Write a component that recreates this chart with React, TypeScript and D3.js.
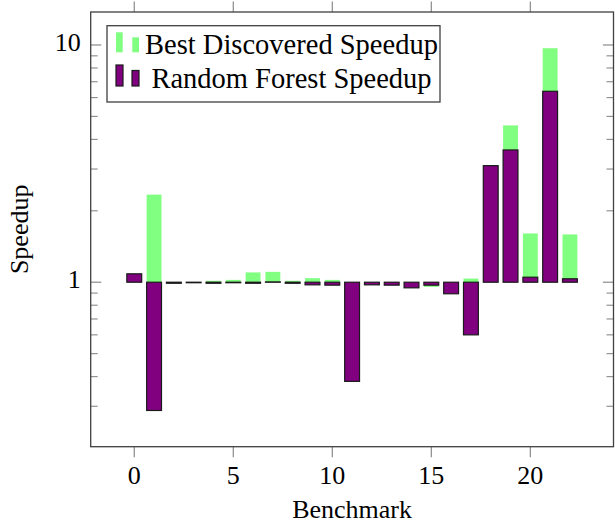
import React from "react";
import * as d3 from "d3";

// Per-benchmark speedups (log scale, bars grow from 1)
const benchmarks = d3.range(0, 23);
const bestDiscovered = [
  1.085, 2.34, 1.0, 1.0, 1.014, 1.023, 1.1, 1.106, 1.014, 1.04, 1.023, 1.0,
  1.0, 1.0, 1.0, 0.956, 1.0, 1.036, 3.12, 4.58, 1.605, 9.69, 1.59,
];
const randomForest = [
  1.085, 0.288, 0.99, 0.995, 0.99, 0.995, 0.99, 1.003, 0.99, 0.975, 0.972,
  0.382, 0.975, 0.972, 0.947, 0.972, 0.894, 0.6, 3.1, 3.61, 1.05, 6.38, 1.034,
];
const xTicks = [0, 5, 10, 15, 20];
const yMajorTicks = [1, 10];
const yMinorTicks = [0.3, 0.4, 0.5, 0.6, 0.7, 0.8, 0.9, 2, 3, 4, 5, 6, 7, 8, 9];
const legendLabels = ["Best Discovered Speedup", "Random Forest Speedup"];

const W = 615;
const H = 525;
const left = 90.7;
const right = 613.5;
const top = 12;
const bottom = 446.7;
const FONT = "'Liberation Serif', 'Times New Roman', serif";
const FS = 26;
const LEGEND_FS = 28.5;
const GREEN = "#80ff80";
const PURPLE = "#800080";

export default function App() {
  // 10% enlargement of the data range, as in pgfplots
  const xMin = d3.min(benchmarks)!;
  const xMax = d3.max(benchmarks)!;
  const xPad = (xMax - xMin) * 0.1;
  const x = d3.scaleLinear().domain([xMin - xPad, xMax + xPad]).range([left, right]);

  const all = [...bestDiscovered, ...randomForest];
  const lLo = Math.log10(d3.min(all)!);
  const lHi = Math.log10(d3.max(all)!);
  const lPad = (lHi - lLo) * 0.1;
  const y = d3
    .scaleLog()
    .domain([Math.pow(10, lLo - lPad), Math.pow(10, lHi + lPad)])
    .range([bottom, top]);

  const barW = x(0.75) - x(0);

  const bar = (v: number, i: number) => {
    const y0 = y(1);
    const yv = y(v);
    return {
      x: x(benchmarks[i]) - barW / 2,
      y: Math.min(y0, yv),
      h: Math.abs(yv - y0),
    };
  };

  const axisColor = "#404040";
  const tickColor = "#8a8a8a";

  // legend geometry
  const lgX = 107;
  const lgY = 25.7;
  const lgW = 333;
  const lgH = 76.3;
  const rowY = [54, 87.5];
  const textCx = 291.5;

  return (
    <div style={{ position: "fixed", left: 0, top: 0 }}>
      <svg width={W} height={H} style={{ display: "block", background: "#fff" }}>
        {/* best discovered bars */}
        {bestDiscovered.map((v, i) => {
          const b = bar(v, i);
          return b.h > 0 ? (
            <rect key={"g" + i} x={b.x} y={b.y} width={barW} height={b.h} fill={GREEN} />
          ) : null;
        })}
        {/* random forest bars */}
        {randomForest.map((v, i) => {
          const b = bar(v, i);
          return (
            <rect
              key={"p" + i}
              x={b.x}
              y={b.y}
              width={barW}
              height={Math.max(b.h, 0.3)}
              fill={PURPLE}
              stroke="#1a1a1a"
              strokeWidth={1.2}
            />
          );
        })}

        {/* y ticks, both sides, inside */}
        {yMajorTicks.map((t) => (
          <g key={"ym" + t} stroke={tickColor} strokeWidth={1.2}>
            <line x1={left} x2={left + 10.6} y1={y(t)} y2={y(t)} />
            <line x1={right} x2={right - 10.6} y1={y(t)} y2={y(t)} />
          </g>
        ))}
        {yMinorTicks.map((t) => (
          <g key={"yn" + t} stroke={tickColor} strokeWidth={1.1}>
            <line x1={left} x2={left + 7} y1={y(t)} y2={y(t)} />
            <line x1={right} x2={right - 7} y1={y(t)} y2={y(t)} />
          </g>
        ))}
        {/* x ticks, top and bottom, outside */}
        {xTicks.map((t) => (
          <g key={"xt" + t} stroke={tickColor} strokeWidth={1.2}>
            <line x1={x(t)} x2={x(t)} y1={bottom} y2={bottom + 10.6} />
            <line x1={x(t)} x2={x(t)} y1={top} y2={top - 10.6} />
          </g>
        ))}

        {/* frame */}
        <rect
          x={left}
          y={top}
          width={right - left}
          height={bottom - top}
          fill="none"
          stroke={axisColor}
          strokeWidth={1.3}
        />

        {/* tick labels */}
        {xTicks.map((t) => (
          <text
            key={"xl" + t}
            x={x(t)}
            y={bottom + 31}
            textAnchor="middle"
            dominantBaseline="middle"
            fontFamily={FONT}
            fontSize={FS}
          >
            {t}
          </text>
        ))}
        {yMajorTicks.map((t) => (
          <text
            key={"yl" + t}
            x={left - 10}
            y={y(t)}
            textAnchor="end"
            dominantBaseline="middle"
            fontFamily={FONT}
            fontSize={FS}
          >
            {t}
          </text>
        ))}

        {/* axis labels */}
        <text
          x={(left + right) / 2}
          y={512}
          textAnchor="middle"
          dominantBaseline="middle"
          fontFamily={FONT}
          fontSize={FS}
        >
          Benchmark
        </text>
        <text
          transform={`translate(22,${(top + bottom) / 2}) rotate(-90)`}
          textAnchor="middle"
          dominantBaseline="middle"
          fontFamily={FONT}
          fontSize={FS}
        >
          Speedup
        </text>

        {/* legend */}
        <rect x={lgX} y={lgY} width={lgW} height={lgH} fill="#fff" stroke={axisColor} strokeWidth={1.3} />
        <rect x={116} y={rowY[0] - 21.7} width={6.7} height={20} fill={GREEN} />
        <rect x={132.3} y={rowY[0] - 16.7} width={6.7} height={15} fill={GREEN} />
        <rect x={116} y={rowY[1] - 22.5} width={7} height={21} fill={PURPLE} stroke="#1a1a1a" strokeWidth={1.2} />
        <rect x={132} y={rowY[1] - 17} width={7} height={15.5} fill={PURPLE} stroke="#1a1a1a" strokeWidth={1.2} />
        {legendLabels.map((s, i) => (
          <text key={s} x={textCx} y={rowY[i]} textAnchor="middle" fontFamily={FONT} fontSize={LEGEND_FS}>
            {s}
          </text>
        ))}
      </svg>
    </div>
  );
}
